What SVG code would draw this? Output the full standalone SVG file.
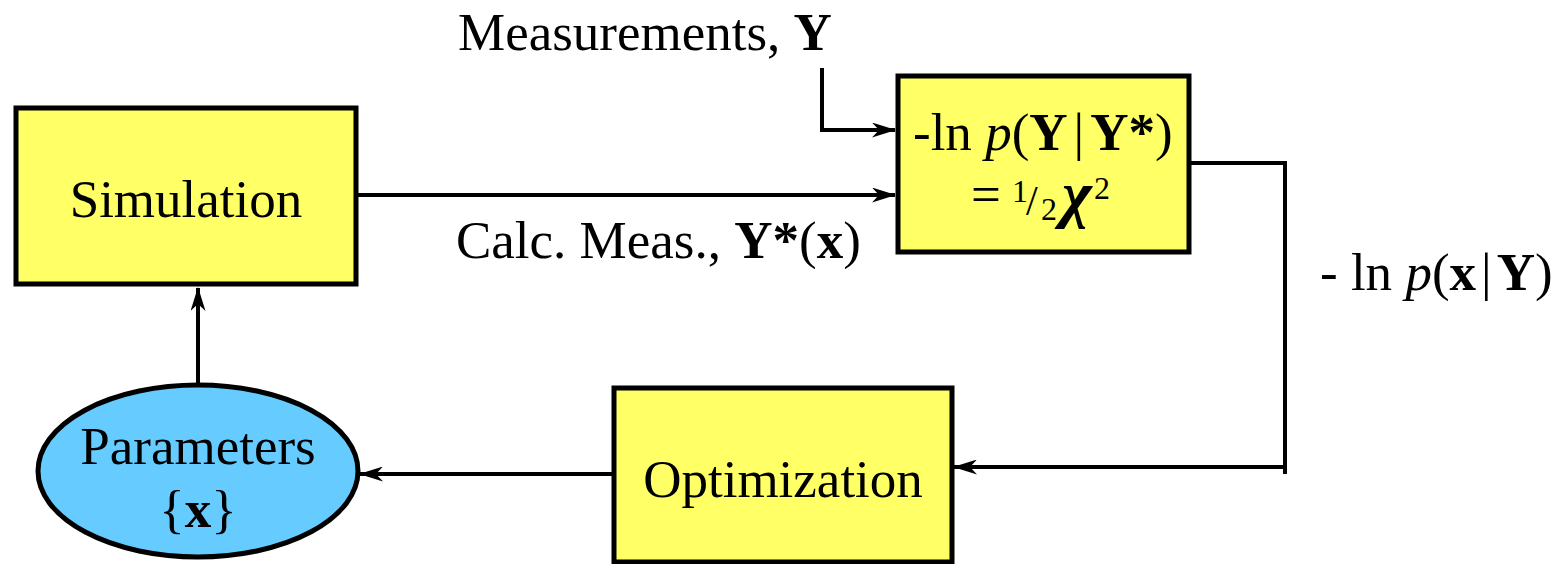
<svg xmlns="http://www.w3.org/2000/svg" width="1566" height="564" viewBox="0 0 1566 564">
<style>
.box{fill:#ffff66;stroke:#000;stroke-width:5}
.ell{fill:#66ccff;stroke:#000;stroke-width:5}
.t{font-family:"Liberation Serif","Times New Roman",serif;font-size:53px;fill:#000}
.b{font-weight:bold}
.i{font-style:italic}
.t.s{font-size:32px}
.t.sl{font-size:42px}
.t.chi{font-size:64px}
.ln{fill:none;stroke:#000;stroke-width:4}
</style>
<defs>
<marker id="ah" viewBox="0 0 24 15" refX="23" refY="7.5" markerWidth="24" markerHeight="15" markerUnits="userSpaceOnUse" orient="auto">
<path d="M0,0 L24,7.5 L0,15 L7,7.5 Z" fill="#000"/>
</marker>
</defs>
<g id="connectors">
<path class="ln" d="M198,386 L198,288" marker-end="url(#ah)"/>
<path class="ln" d="M612,474 L360,474" marker-end="url(#ah)"/>
<path class="ln" d="M357,195 L895,195" marker-end="url(#ah)"/>
<path class="ln" d="M822,68 L822,130 L895,130" marker-end="url(#ah)"/>
<path class="ln" d="M1191,163 L1285,163 L1285,474"/>
<path class="ln" d="M1285,467 L954,467" marker-end="url(#ah)"/>
</g>
<g id="simulation">
<rect class="box" x="16" y="108" width="340" height="176"/>
<text class="t" x="186" y="217" text-anchor="middle">Simulation</text>
</g>
<g id="likelihood">
<rect class="box" x="898" y="76" width="291" height="176"/>
<text class="t" x="913" y="150">-ln <tspan class="i">p</tspan>(<tspan class="b">Y</tspan><tspan dx="6">|</tspan><tspan class="b" dx="6">Y*</tspan>)</text>
<text class="t" x="971" y="212">=</text>
<text class="t s" x="1012" y="202">1</text>
<text class="t sl" x="1026" y="215">/</text>
<text class="t s" x="1041" y="220">2</text>
<text class="t b i chi" x="1062" y="215">χ</text>
<text class="t s" x="1094" y="199">2</text>
</g>
<g id="optimization">
<rect class="box" x="614" y="388" width="338" height="174"/>
<text class="t" x="783" y="497" text-anchor="middle">Optimization</text>
</g>
<g id="parameters">
<ellipse class="ell" cx="198" cy="471" rx="160" ry="86"/>
<text class="t" x="198" y="464" text-anchor="middle">Parameters</text>
<text class="t" x="198" y="527" text-anchor="middle">{<tspan class="b">x</tspan>}</text>
</g>
<g id="labels">
<text class="t" x="458" y="50">Measurements, <tspan class="b">Y</tspan></text>
<text class="t" x="456" y="258">Calc. Meas., <tspan class="b">Y*</tspan>(<tspan class="b">x</tspan>)</text>
<text class="t" x="1320" y="290">- ln <tspan class="i">p</tspan>(<tspan class="b">x</tspan><tspan dx="5">|</tspan><tspan class="b" dx="5">Y</tspan>)</text>
</g>
</svg>
